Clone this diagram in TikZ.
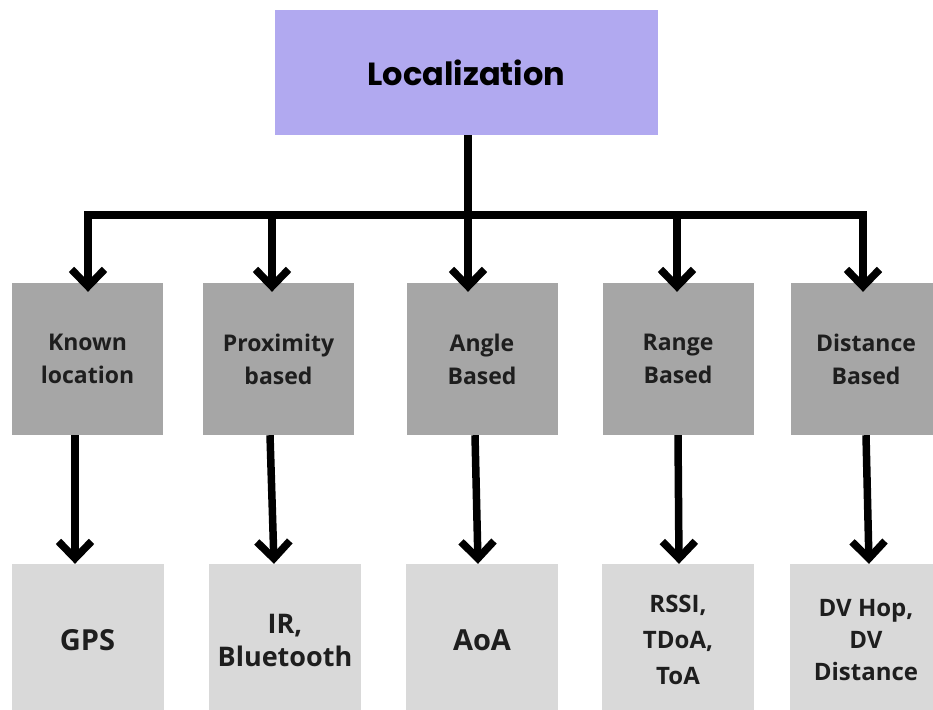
\documentclass[tikz,border=0pt]{standalone}
\usepackage{fontspec}
\setmainfont{Open Sans}
\newfontfamily\headfont{Poppins}
\usetikzlibrary{arrows.meta}
\definecolor{lilac}{HTML}{B1A9F0}
\definecolor{midgray}{HTML}{A6A6A6}
\definecolor{palegray}{HTML}{D9D9D9}
\definecolor{ink}{HTML}{1E1E1E}
\tikzstyle{topbox}=[rectangle,fill=lilac,minimum width=383pt,minimum height=125pt,inner sep=0pt,font=\headfont\bfseries\fontsize{32}{38}\selectfont]
\tikzstyle{method}=[rectangle,fill=midgray,minimum width=151pt,minimum height=152pt,inner sep=0pt,align=center,text=ink,font=\bfseries\fontsize{23}{33}\selectfont]
\tikzstyle{leaf}=[rectangle,fill=palegray,minimum width=152pt,minimum height=152pt,inner sep=0pt,align=center,text=ink]
\tikzstyle{wire}=[line width=7.5pt,black]
\tikzstyle{link}=[wire,-{Straight Barb[length=17pt,width=33pt]}]

\begin{document}
\begin{tikzpicture}[x=1pt,y=-1pt]
      \clip (0,0) rectangle (933,709);
      \fill[white] (0,0) rectangle (933,709);
      % root
      \node[topbox] (loc) at (466.5,72.5) {Localization};
      % methods
      \node[method] (m1) at (87.5,359) {Known\\location};
      \node[method] (m2) at (278.5,359) {Proximity\\based};
      \node[method] (m3) at (482,359) {Angle\\Based};
      \node[method] (m4) at (678,359) {Range\\Based};
      \node[method] (m5) at (866,359) {Distance\\Based};
      % examples
      \node[leaf,font=\bfseries\fontsize{29}{34}\selectfont] (e1) at (87.5,640) {GPS};
      \node[leaf,font=\bfseries\fontsize{27}{33}\selectfont] (e2) at (285,640) {IR,\\Bluetooth};
      \node[leaf,font=\bfseries\fontsize{29}{34}\selectfont] (e3) at (482,640) {AoA};
      \node[leaf,font=\bfseries\fontsize{24}{36}\selectfont] (e4) at (678,640) {RSSI,\\TDoA,\\ToA};
      \node[leaf,font=\bfseries\fontsize{24}{32}\selectfont] (e5) at (866,640) {DV Hop,\\DV\\Distance};
      % branch points on the bar
      \coordinate (b1) at (88,215);
      \coordinate (b2) at (272,215);
      \coordinate (b3) at (468,215);
      \coordinate (b4) at (677,215);
      \coordinate (b5) at (863,215);
      \draw[wire] (b3 |- loc.south) -- (b3);
      \draw[wire,line cap=rect] (b1) -- (b5);
      \draw[link,shorten >=-9pt] (b1) -- (b1 |- m1.north);
      \draw[link,shorten >=-9pt] (b2) -- (b2 |- m2.north);
      \draw[link,shorten >=-9pt] (b3) -- (b3 |- m3.north);
      \draw[link,shorten >=-9pt] (b4) -- (b4 |- m4.north);
      \draw[link,shorten >=-9pt] (b5) -- (b5 |- m5.north);
      % method to example
      \draw[link] ([xshift=-12.5pt]m1.south) -- ([xshift=-12.5pt]e1.north);
      \draw[link] ([xshift=-8.5pt]m2.south) -- ([xshift=-11pt]e2.north);
      \draw[link] ([xshift=-7pt]m3.south) -- ([xshift=-4pt]e3.north);
      \draw[link] (m4.south) -- ([xshift=1pt]e4.north);
      \draw[link] (m5.south) -- ([xshift=3pt]e5.north);
    \end{tikzpicture}
\end{document}
